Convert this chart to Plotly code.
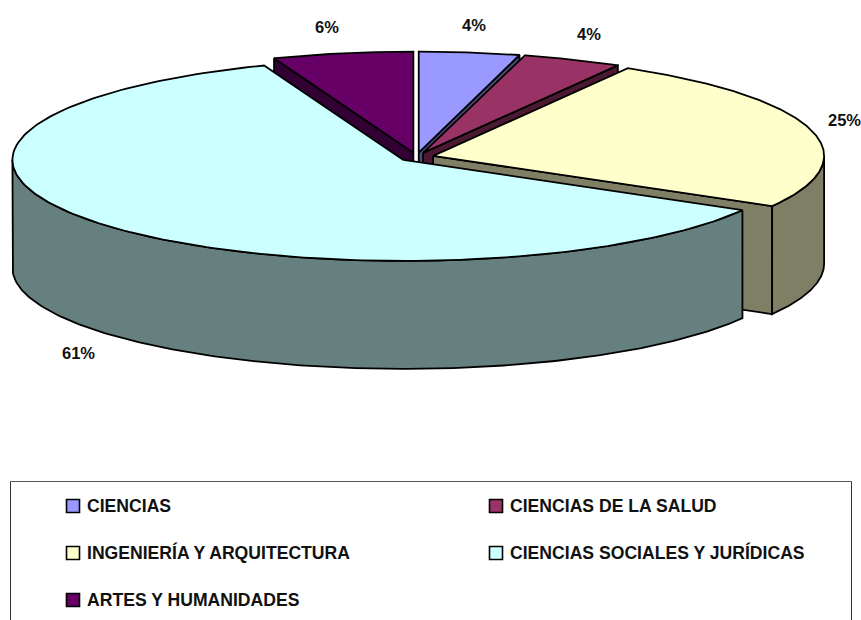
import numpy as np
import plotly.graph_objects as go

# --- data ---
categories = ["CIENCIAS", "CIENCIAS DE LA SALUD", "INGENIERÍA Y ARQUITECTURA",
              "CIENCIAS SOCIALES Y JURÍDICAS", "ARTES Y HUMANIDADES"]
values = [4.15, 4.15, 25.0, 60.9, 5.8]

# --- styling ---
top_colors = ["#9999FF", "#993366", "#FFFFCC", "#CCFFFF", "#660066"]
side_colors = ["#4C4C7F", "#4C1933", "#7F7F66", "#667F7F", "#330033"]
draw_order = [0, 4, 1, 2, 3]
label_xy = [(474, 25), (589, 34), (844, 120), (78, 353), (327, 27)]
legend_xy = [(73, 506), (496, 506), (73, 553), (496, 553), (73, 600)]

CX, CY, RX, RY, DEPTH, EXPLODE = 416.5, 157, 391, 101, 108, 0.044
FONT = dict(family="Liberation Sans", size=17.6, color="#111111", weight="bold")
LABEL_FONT = dict(family="Liberation Sans", size=16.5, color="#111111", weight="bold")
LW = 1.8

shares = np.array(values) / sum(values) * 2 * np.pi
ends = np.cumsum(shares)
starts = ends - shares

fig = go.Figure()


def poly(xs, ys, color):
    fig.add_trace(go.Scatter(x=list(xs), y=list(ys), mode="lines", fill="toself",
                             fillcolor=color, line=dict(color="black", width=LW),
                             hoverinfo="skip", showlegend=False))


for i in draw_order:
    a0, a1 = starts[i], ends[i]
    mid = (a0 + a1) / 2
    cx = CX + EXPLODE * RX * np.sin(mid)
    cy = CY - EXPLODE * RY * np.cos(mid)
    px = lambda a: cx + RX * np.sin(a)
    py = lambda a: cy - RY * np.cos(a)

    # radial cut faces that look towards the viewer
    for a, visible in ((a0, np.sin(a0) < -1e-6), (a1, np.sin(a1) > 1e-6)):
        if visible:
            poly([cx, px(a), px(a), cx, cx],
                 [cy, py(a), py(a) + DEPTH, cy + DEPTH, cy], side_colors[i])

    # outer wall: front half of the rim only
    w0, w1 = max(a0, np.pi / 2), min(a1, 3 * np.pi / 2)
    if w1 > w0:
        t = np.linspace(w0, w1, 200)
        poly(np.r_[px(t), px(t)[::-1], px(t[0])],
             np.r_[py(t), py(t)[::-1] + DEPTH, py(t[0])], side_colors[i])

    # top face
    t = np.linspace(a0, a1, 200)
    poly(np.r_[cx, px(t), cx], np.r_[cy, py(t), cy], top_colors[i])

annotations = []
for v, (x, y) in zip(values, label_xy):
    annotations.append(dict(x=x, y=y, text=f"{round(v / sum(values) * 100)}%",
                            showarrow=False, font=LABEL_FONT, xanchor="center", yanchor="middle"))

# legend
fig.add_trace(go.Scatter(x=[p[0] for p in legend_xy], y=[p[1] for p in legend_xy], mode="markers",
                         marker=dict(symbol="square", size=13, color=top_colors,
                                     line=dict(color="black", width=1.6)),
                         hoverinfo="skip", showlegend=False))
for name, (x, y) in zip(categories, legend_xy):
    annotations.append(dict(x=x + 12, y=y - 0.5, text=name, showarrow=False, font=FONT,
                            xanchor="left", yanchor="middle"))

shapes = [
    dict(type="line", x0=10.5, x1=851.5, y0=481.5, y1=481.5, line=dict(color="#555555", width=1)),
    dict(type="line", x0=10.5, x1=10.5, y0=481.5, y1=620, line=dict(color="#333333", width=1)),
    dict(type="line", x0=851.5, x1=851.5, y0=481.5, y1=620, line=dict(color="#333333", width=1)),
]

fig.update_layout(
    width=861, height=620, margin=dict(l=0, r=0, t=0, b=0), autosize=False,
    paper_bgcolor="white", plot_bgcolor="white", showlegend=False,
    xaxis=dict(range=[0, 861], visible=False, fixedrange=True),
    yaxis=dict(range=[620, 0], visible=False, fixedrange=True),
    annotations=annotations, shapes=shapes,
)

fig.write_html("out.html", post_script="document.body.style.margin='0';document.body.style.overflow='hidden';",
               config={"displayModeBar": False})
